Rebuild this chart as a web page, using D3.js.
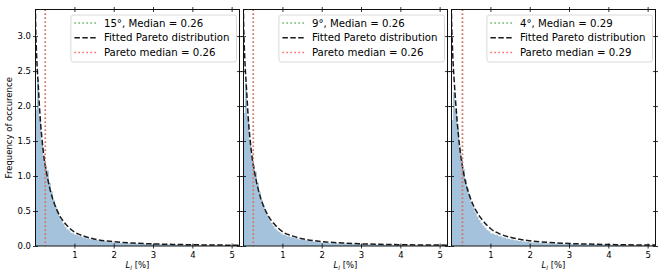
<!DOCTYPE html>
<html>
<head>
<meta charset="utf-8">
<script src="https://cdn.jsdelivr.net/npm/d3@7"></script>
<style>
  body { margin: 0; background: #fff; }
  text { font-family: "DejaVu Sans", sans-serif; fill: #000; }
</style>
</head>
<body>
<div id="chart"></div>
<script>
// tick labels
var xTicks = [1, 2, 3, 4, 5];
var yTicks = [0, 0.5, 1.0, 1.5, 2.0, 2.5, 3.0];

// panel titles in legend
var angleLabels = ["15°", "9°", "4°"];
var medians = [0.26, 0.26, 0.293];
var paretoMedians = [0.26, 0.26, 0.285];
var medianText = ["0.26", "0.26", "0.29"];

// histogram bin edges (L_l in %)
var binEdges = [0, 0.05, 0.1, 0.15, 0.2, 0.25, 0.3, 0.35, 0.4, 0.45, 0.5,
  0.55, 0.6, 0.65, 0.7, 0.75, 0.8, 0.85, 0.9, 0.95, 1.0,
  1.1, 1.2, 1.3, 1.4, 1.5, 1.6, 1.7, 1.8, 1.9, 2.0,
  2.2, 2.4, 2.6, 2.8, 3.0, 3.2, 3.4, 3.6, 3.8, 4.0, 4.2, 4.4, 4.6, 4.8, 5.0, 5.2];

// histogram heights
var hist15 = [1.95, 2.38, 1.85, 1.5, 1.28, 1.15, 1.08, 0.9, 0.78, 0.66,
  0.57, 0.5, 0.43, 0.37, 0.32, 0.27, 0.24, 0.22, 0.19, 0.18,
  0.16, 0.14, 0.12, 0.105, 0.095, 0.085, 0.075, 0.068, 0.06, 0.053,
  0.046, 0.04, 0.035, 0.031, 0.027, 0.024, 0.021, 0.019, 0.017, 0.015,
  0.013, 0.012, 0.011, 0.01, 0.009, 0.008];
var hist9 = [1.9, 2.33, 1.86, 1.52, 1.3, 1.16, 1.06, 0.9, 0.77, 0.66,
  0.58, 0.5, 0.44, 0.38, 0.33, 0.29, 0.25, 0.22, 0.2, 0.18,
  0.16, 0.14, 0.125, 0.11, 0.097, 0.086, 0.077, 0.068, 0.061, 0.054,
  0.047, 0.041, 0.036, 0.032, 0.028, 0.025, 0.022, 0.019, 0.017, 0.015,
  0.014, 0.012, 0.011, 0.01, 0.009, 0.008];
var hist4 = [1.8, 2.2, 1.95, 1.68, 1.42, 1.24, 1.1, 0.95, 0.83, 0.72,
  0.63, 0.55, 0.48, 0.42, 0.37, 0.33, 0.29, 0.26, 0.23, 0.21,
  0.18, 0.16, 0.14, 0.12, 0.105, 0.093, 0.082, 0.073, 0.065, 0.058,
  0.05, 0.044, 0.039, 0.034, 0.03, 0.027, 0.024, 0.021, 0.019, 0.017,
  0.015, 0.013, 0.012, 0.011, 0.01, 0.009];

// fitted Pareto curve
var fitX = [0.0, 0.01, 0.03, 0.05, 0.08, 0.11, 0.14, 0.18, 0.23, 0.3, 0.38, 0.45,
  0.55, 0.65, 0.8, 1.0, 1.25, 1.5, 2.0, 2.5, 3.0, 3.5, 4.0, 4.5, 5.2];
var fit15 = [4.0, 3.3, 2.85, 2.58, 2.3, 2.0, 1.75, 1.5, 1.25, 1.02, 0.81, 0.67,
  0.52, 0.41, 0.3, 0.2, 0.14, 0.1, 0.062, 0.042, 0.03, 0.023, 0.018, 0.014, 0.011];
var fit9 = [4.0, 3.3, 2.86, 2.59, 2.31, 2.02, 1.76, 1.51, 1.26, 1.03, 0.82, 0.68,
  0.53, 0.42, 0.31, 0.205, 0.145, 0.104, 0.064, 0.044, 0.031, 0.024, 0.019, 0.015, 0.012];
var fit4 = [4.0, 3.3, 2.9, 2.63, 2.35, 2.1, 1.88, 1.62, 1.36, 1.1, 0.88, 0.75,
  0.6, 0.49, 0.37, 0.25, 0.17, 0.125, 0.075, 0.05, 0.036, 0.027, 0.021, 0.017, 0.013];

var hists = [hist15, hist9, hist4];
var fits = [fit15, fit9, fit4];

var chartW = 665;
var chartH = 275;

// panel placement
var panelLeft = [35.5, 243.5, 451.5];
var panelW = 204;
var plotTop = 9.5;
var plotBottom = 246;

var blue = "#a4c2dc";
var green = "#5fb35f";
var red = "#ff6262";
var black = "#1a1a1a";

var svg = d3
  .select("#chart")
  .append("svg")
  .attr("width", chartW)
  .attr("height", chartH);

var y_Scale = d3.scaleLinear().domain([0, 3.38]).range([plotBottom, plotTop]);

panelLeft.forEach(function(left, i) {
  var x_Scale = d3.scaleLinear().domain([0.01, 5.2]).range([left, left + panelW]);

  var g = svg.append("g");

  g.append("clipPath")
    .attr("id", "clip" + i)
    .append("rect")
    .attr("x", left)
    .attr("y", plotTop)
    .attr("width", panelW)
    .attr("height", plotBottom - plotTop);

  var plot = g.append("g").attr("clip-path", "url(#clip" + i + ")");

  // histogram as a step area
  var steps = binEdges.map(function(e, k) {
    return { x: e, y: k < hists[i].length ? hists[i][k] : hists[i][k - 1] };
  });
  plot.append("path")
    .datum(steps)
    .attr("fill", blue)
    .attr("d", d3.area()
      .curve(d3.curveStepAfter)
      .x(function(d) { return x_Scale(d.x); })
      .y0(y_Scale(0))
      .y1(function(d) { return y_Scale(d.y); }));

  // median lines
  plot.append("line")
    .attr("x1", x_Scale(medians[i])).attr("x2", x_Scale(medians[i]))
    .attr("y1", plotTop).attr("y2", plotBottom)
    .attr("stroke", green).attr("stroke-width", 1.5)
    .attr("stroke-dasharray", "1.5,2.5");

  // fitted curve
  var fitPts = fitX.map(function(x, k) { return [x, fits[i][k]]; });
  plot.append("path")
    .datum(fitPts)
    .attr("fill", "none")
    .attr("stroke", black)
    .attr("stroke-width", 1.5)
    .attr("stroke-dasharray", "5.5,2.4")
    .attr("d", d3.line()
      .curve(d3.curveMonotoneX)
      .x(function(d) { return x_Scale(d[0]); })
      .y(function(d) { return y_Scale(d[1]); }));

  plot.append("line")
    .attr("x1", x_Scale(paretoMedians[i])).attr("x2", x_Scale(paretoMedians[i]))
    .attr("y1", plotTop).attr("y2", plotBottom)
    .attr("stroke", red).attr("stroke-width", 1.5)
    .attr("stroke-dasharray", "1.5,2.5");

  // axes, ticks both sides of the spine
  var xAxisB = d3.axisBottom(x_Scale).tickValues(xTicks).tickSize(2.5).tickPadding(3)
    .tickFormat(d3.format("d"));
  var xAxisT = d3.axisTop(x_Scale).tickValues(xTicks).tickSize(2.5).tickFormat("");
  var yAxisL = d3.axisLeft(y_Scale).tickValues(yTicks).tickSize(2.5).tickPadding(2)
    .tickFormat(i === 0 ? d3.format(".1f") : "");
  var yAxisR = d3.axisRight(y_Scale).tickValues(yTicks).tickSize(2.5).tickFormat("");

  var axes = [
    [xAxisB, "translate(0," + plotBottom + ")"],
    [xAxisT, "translate(0," + plotTop + ")"],
    [yAxisL, "translate(" + left + ",0)"],
    [yAxisR, "translate(" + (left + panelW) + ",0)"]
  ];
  axes.forEach(function(a) {
    var ax = g.append("g").attr("transform", a[1]).call(a[0]);
    ax.select(".domain").remove();
    ax.selectAll("line").attr("stroke", "#000").attr("stroke-width", 0.8);
    ax.selectAll("text").attr("font-size", 8.5).attr("font-family", "DejaVu Sans");
  });
  // inner half of the ticks
  var inner = [
    [d3.axisTop(x_Scale).tickValues(xTicks).tickSize(2.5).tickFormat(""), "translate(0," + plotBottom + ")"],
    [d3.axisBottom(x_Scale).tickValues(xTicks).tickSize(2.5).tickFormat(""), "translate(0," + plotTop + ")"],
    [d3.axisRight(y_Scale).tickValues(yTicks).tickSize(2.5).tickFormat(""), "translate(" + left + ",0)"],
    [d3.axisLeft(y_Scale).tickValues(yTicks).tickSize(2.5).tickFormat(""), "translate(" + (left + panelW) + ",0)"]
  ];
  inner.forEach(function(a) {
    var ax = g.append("g").attr("transform", a[1]).call(a[0]);
    ax.select(".domain").remove();
    ax.selectAll("line").attr("stroke", "#000").attr("stroke-width", 0.8);
  });

  // frame
  g.append("rect")
    .attr("x", left)
    .attr("y", plotTop)
    .attr("width", panelW)
    .attr("height", plotBottom - plotTop)
    .attr("fill", "none")
    .attr("stroke", "#111")
    .attr("stroke-width", 1);

  // x label
  var xl = g.append("text")
    .attr("x", left + panelW / 2)
    .attr("y", 268)
    .attr("text-anchor", "middle")
    .attr("font-size", 8.5);
  xl.append("tspan").attr("font-style", "italic").text("L");
  xl.append("tspan").attr("font-style", "italic").attr("font-size", 6).attr("dy", 1.8).text("l");
  xl.append("tspan").attr("dy", -1.8).text(" [%]");

  // legend
  var labels = [
    angleLabels[i] + ", Median = " + medianText[i],
    "Fitted Pareto distribution",
    "Pareto median = " + medianText[i]
  ];
  var styles = [
    [green, "1.5,2.5"],
    [black, "5.5,2.4"],
    [red, "1.5,2.5"]
  ];
  var leg = g.append("g");
  var box = leg.append("rect")
    .attr("fill", "#fff")
    .attr("fill-opacity", 0.85)
    .attr("stroke", "#d0d0d0")
    .attr("stroke-width", 0.8)
    .attr("rx", 2.5);
  var texts = [];
  labels.forEach(function(lbl, k) {
    var t = leg.append("text")
      .attr("y", 23 + k * 14.7 + 3.5)
      .attr("font-size", 10.2)
      .text(lbl);
    texts.push(t);
  });
  var maxW = d3.max(texts, function(t) { return t.node().getComputedTextLength(); });
  var boxRight = left + panelW - 3;
  var boxLeft = boxRight - maxW - 40;
  box.attr("x", boxLeft).attr("y", 15).attr("width", boxRight - boxLeft).attr("height", 47);
  texts.forEach(function(t, k) {
    t.attr("x", boxLeft + 33);
    leg.append("line")
      .attr("x1", boxLeft + 3.5).attr("x2", boxLeft + 25)
      .attr("y1", 23 + k * 14.7).attr("y2", 23 + k * 14.7)
      .attr("stroke", styles[k][0])
      .attr("stroke-width", 1.5)
      .attr("stroke-dasharray", styles[k][1]);
  });
});

// y label
svg.append("text")
  .attr("transform", "translate(12," + (plotBottom + plotTop) / 2 + ")rotate(-90)")
  .attr("text-anchor", "middle")
  .attr("font-size", 8.5)
  .text("Frequency of occurence");
</script>
</body>
</html>
